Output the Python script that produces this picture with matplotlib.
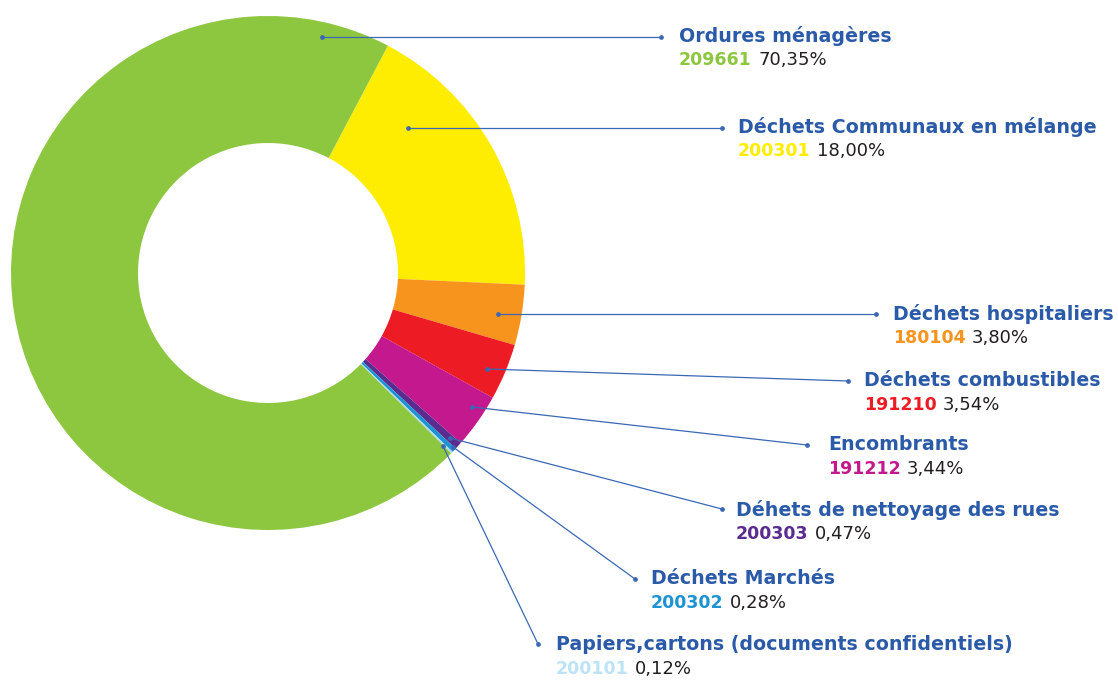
import matplotlib.pyplot as plt

# waste streams, clockwise from the top-right of the ring
names = ['Déchets Communaux en mélange', 'Déchets hospitaliers', 'Déchets combustibles',
         'Encombrants', 'Déhets de nettoyage des rues', 'Déchets Marchés',
         'Papiers,cartons (documents confidentiels)', 'Ordures ménagères']
codes = ['200301', '180104', '191210', '191212', '200303', '200302', '200101', '209661']
shares = [18.00, 3.80, 3.54, 3.44, 0.47, 0.28, 0.12, 70.35]

colors = ['#FFED00', '#F7941D', '#ED1C24', '#C4198E', '#5B2C8F', '#1E93D2', '#AEDCF4', '#8DC63F']
code_colors = ['#FFED00', '#F7941D', '#ED1C24', '#C4198E', '#5B2C8F', '#1E93D2', '#BDE3F7', '#8DC63F']

# layout in pixels (y down): leader start, leader end, label left edge / title centre
starts = [(408, 128), (498, 314), (487, 369), (472, 407), (450, 438), (453, 447), (443, 446), (322, 37)]
ends = [(722, 128), (876, 314), (848, 381), (807, 445), (722, 509), (635, 579), (538, 644), (661, 37)]
labels_at = [(738, 127), (893, 314), (864, 381), (828, 445), (736, 510), (651, 579), (556, 645), (679, 36)]

W, H = 1118, 682
blue = '#2B5BA8'
line_col = '#3A68B4'

fig = plt.figure(figsize=(W / 100, H / 100), dpi=100)
ax = fig.add_axes([0, 0, 1, 1])

# y axis runs downward, so counterclock=True draws clockwise on screen
ax.pie(shares, colors=colors, center=(268, 273), radius=257,
       startangle=-62.2, counterclock=True,
       wedgeprops=dict(width=127, linewidth=0))

ax.set_xlim(0, W)
ax.set_ylim(H, 0)
ax.set_aspect('equal')
ax.axis('off')

for i in range(len(names)):
    (x0, y0), (x1, y1) = starts[i], ends[i]
    ax.plot([x0, x1], [y0, y1], color=line_col, lw=0.9, zorder=3)
    ax.plot([x0, x1], [y0, y1], 'o', color=line_col, ms=2.4, zorder=4)

    tx, ty = labels_at[i]
    ax.text(tx, ty, names[i], color=blue, fontsize=13.7, fontweight='bold',
            ha='left', va='center')
    code = ax.text(tx, ty + 24, codes[i], color=code_colors[i], fontsize=12.5,
                   fontweight='bold', ha='left', va='center')
    pct = f'{shares[i]:.2f}'.replace('.', ',') + '%'
    ax.annotate(pct, xy=(1, 0.5), xycoords=code, xytext=(4.5, 0),
                textcoords='offset points', ha='left', va='center',
                color='#231F20', fontsize=13)

fig.savefig('out.png', dpi=100)
